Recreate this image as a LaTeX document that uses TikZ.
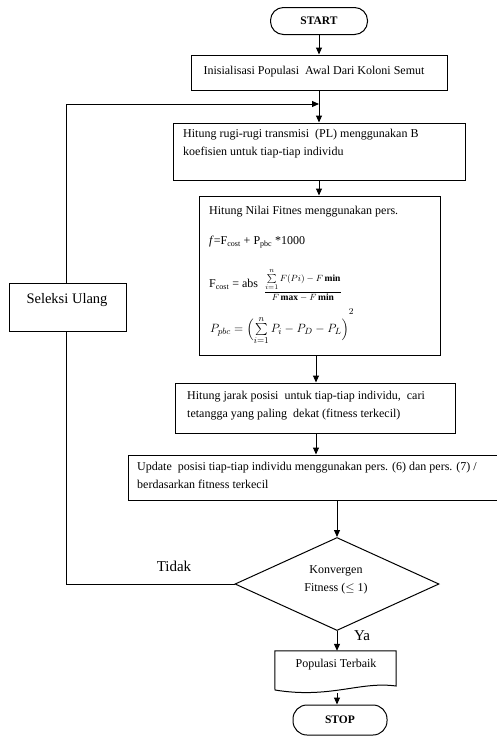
\documentclass[tikz,border=0pt]{standalone}
\usepackage{fontspec}
\setmainfont{Liberation Serif}
\usepackage{amsmath}
\usetikzlibrary{arrows.meta,shapes.geometric,calc}
\begin{document}
\begin{tikzpicture}[x=1pt,y=-1pt,
  box/.style={draw,line width=1pt,inner sep=0pt},
  term/.style={draw,line width=1pt,rounded corners=13pt,inner sep=0pt,font=\fontsize{11.5}{12}\selectfont\bfseries},
  txt/.style={inner sep=0pt,font=\fontsize{12}{18}\selectfont,align=left},
  lbl/.style={inner sep=0pt,font=\fontsize{15}{16}\selectfont},
  conn/.style={line width=1pt},
  arr/.style={line width=1pt,-{Triangle[length=7pt,width=6pt]}}]
\useasboundingbox (0,0) rectangle (497,736);
\clip (0,0) rectangle (497,736);
% nodes
\node[term,minimum width=97,minimum height=27] (start) at (319,21) {START};
\node[box,minimum width=256,minimum height=35] (init) at (319,72.5) {};
\node[txt] (tinit) at (314,72) {Inisialisasi Populasi \ Awal Dari Koloni Semut};
\node[box,minimum width=292,minimum height=57] (hit) at (319,151.5) {};
\node[txt,anchor=north west] (thit) at (183,129) {Hitung rugi-rugi transmisi \ (PL) menggunakan B\\koefisien untuk tiap-tiap individu};
\node[box,minimum width=241,minimum height=159] (fit) at (319.5,275.5) {};
\node[txt,anchor=west] (tfit) at (209,212) {Hitung Nilai Fitnes menggunakan pers.};
\node[txt,anchor=west] (tf1) at (209,242) {\textit{f}=F\textsubscript{cost} + P\textsubscript{pbc} *1000};
\node[txt,anchor=west] (tf2) at (209,284) {F\textsubscript{cost} = abs};
\node[inner sep=0pt,anchor=west] (tf3) at (264,285) {\fontsize{9.5}{10}\selectfont$\dfrac{\sum\limits_{i=1}^{n}F(Pi)-F\,\mathbf{min}}{F\,\mathbf{max}-F\,\mathbf{min}}$};
\node[inner sep=0pt,anchor=west] (tf4) at (210,332) {\fontsize{13}{14}\selectfont$P_{pbc}=\Bigl(\sum\limits_{i=1}^{\smash{n}}P_i-P_D-P_L\Bigr)^{\smash{\raisebox{8pt}{$\scriptstyle 2$}}}$};
\node[box,minimum width=280,minimum height=50] (jar) at (315,408) {};
\node[txt,anchor=north west] (tjar) at (187,391) {Hitung jarak posisi \ untuk tiap-tiap individu, \ cari\\tetangga yang paling \ dekat (fitness terkecil)};
\node[box,minimum width=380,minimum height=45] (upd) at (318,477.5) {};
\node[txt,anchor=north west] (tupd) at (137,462) {Update \ posisi tiap-tiap individu menggunakan pers. (6) dan pers. (7) /\\berdasarkan fitness terkecil};
\node[draw,line width=1pt,diamond,minimum width=204,minimum height=93,inner sep=0pt] (dia) at (337,584) {};
\node[txt,align=center] (tdia) at (336,580) {Konvergen\\Fitness ($\leq$ 1)};
\node[minimum width=121,minimum height=35,inner sep=0pt] (doc) at (335.5,668.5) {};
\draw[line width=1pt] (doc.north west) -- (doc.north east) -- (396,686) .. controls (360,681) and (330,699) .. (275,690) -- cycle;
\node[txt] (tdoc) at (336,665) {Populasi Terbaik};
\node[term,minimum width=94,minimum height=30,rounded corners=14pt] (stop) at (340,720) {STOP};
\node[box,minimum width=117,minimum height=48] (sel) at (67.5,307) {};
\node[inner sep=0pt,font=\fontsize{14.5}{15}\selectfont] (tsel) at (67,300) {Seleksi Ulang};
\node[lbl] (tidak) at (174,566) {Tidak};
\node[lbl] (ya) at (362,636) {Ya};
% connectors
\coordinate (join) at (319,104);
\coordinate (c1) at (66,104);
\coordinate (c2) at (66,584);
\draw[arr] (start.south) -- (start.south |- init.north);
\draw[arr] (init.south) -- (init.south |- hit.north);
\draw[arr] (sel.north -| c1) -- (c1) -- (join);
\draw[conn] (dia.west) -- (c2) -- (c2 |- sel.south);
\draw[arr] (hit.south) -- (hit.south |- fit.north);
\draw[arr] (fit.south -| 316,0) -- (316,0 |- jar.north);
\draw[arr] (jar.south -| 316,0) -- (316,0 |- upd.north);
\draw[arr] (dia.north |- upd.south) -- (dia.north);
\draw[arr] (dia.south) -- (doc.north -| dia.south);
\draw[arr] (337,693) -- (stop.north -| 337,0);
\end{tikzpicture}
\end{document}
